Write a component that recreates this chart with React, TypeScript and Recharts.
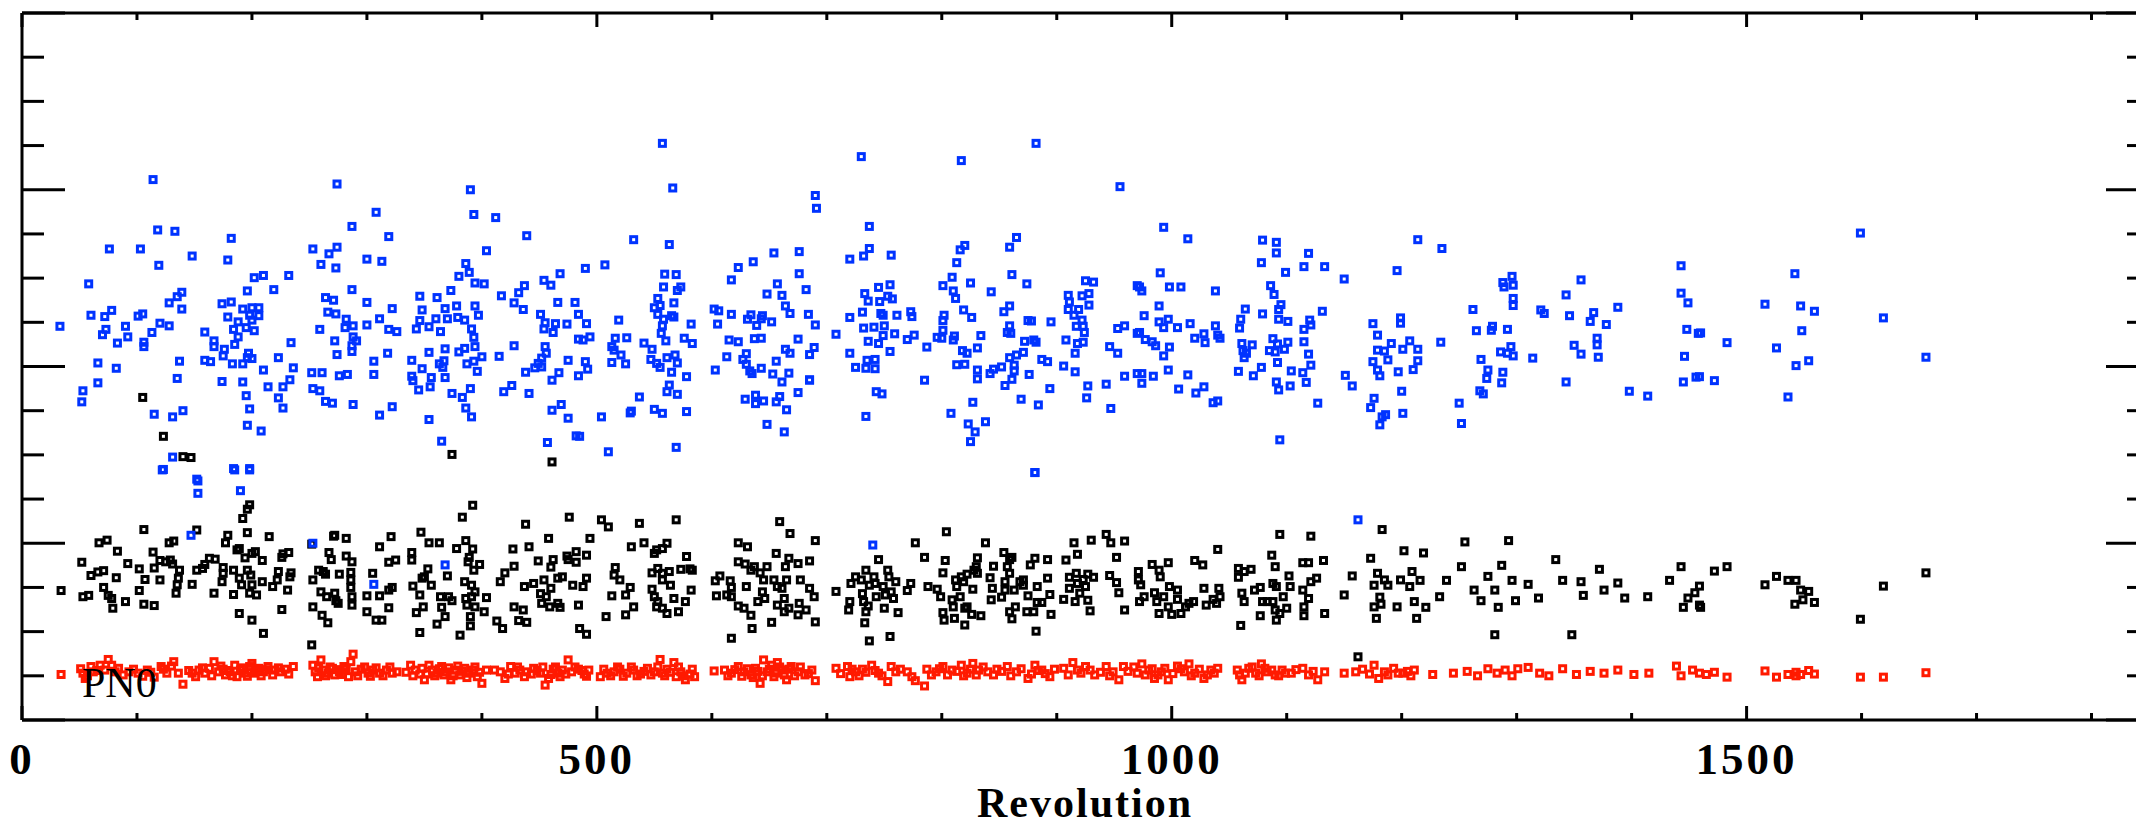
import React from 'react';
import { ScatterChart, Scatter, XAxis, YAxis, Label, LabelList } from 'recharts';

// axis ticks
const X_LABELS = [0, 500, 1000, 1500];
const X_TICKS = [0, 100, 200, 300, 400, 500, 600, 700, 800, 900, 1000, 1100, 1200, 1300, 1400, 1500, 1600, 1700, 1800];
const Y_TICKS = [0, 1, 2, 3, 4, 5, 6, 7, 8, 9, 10, 11, 12, 13, 14, 15, 16];
const Y_MAJOR = [0, 4, 8, 12, 16];

// [revolution, value]
const BLUE: [number, number][] = [
  [114,12.23],[274,12.13],[390,12.0],[308,11.49],[393,11.44],[412,11.37],[287,11.17],[118,11.09],[133,11.06],[182,10.9],[319,10.94],[439,10.96],[76,10.66],[103,10.66],[253,10.66],[267,10.55],[274,10.7],[404,10.62],[148,10.5],[179,10.41],[300,10.43],[313,10.38],[119,10.29],[260,10.31],[273,10.23],[386,10.33],[389,10.13],[380,10.04],[202,10.01],[210,10.06],[232,10.06],[394,9.89],[402,9.87],[454,9.95],[468,10.1],[460,9.84],[58,9.87],[219,9.74],[287,9.74],[373,9.72],[196,9.71],[437,9.83],[432,9.67],[139,9.68],[135,9.58],[346,9.59],[361,9.56],[264,9.56],[271,9.5],[174,9.42],[182,9.46],[128,9.44],[139,9.3],[300,9.45],[417,9.6],[428,9.44],[466,9.45],[481,9.45],[322,9.31],[348,9.28],[368,9.31],[378,9.37],[394,9.37],[436,9.29],[192,9.3],[200,9.33],[206,9.33],[78,9.27],[60,9.16],[72,9.13],[101,9.14],[105,9.19],[179,9.12],[206,9.15],[198,9.16],[266,9.23],[273,9.19],[451,9.18],[484,9.18],[397,9.16],[311,9.08],[360,9.08],[370,9.08],[379,9.11],[385,9.05],[282,9.07],[188,9.01],[200,9.05],[33,8.91],[73,8.84],[70,8.72],[90,8.91],[92,8.67],[120,8.98],[128,8.92],[113,8.77],[159,8.78],[184,8.84],[195,8.88],[202,8.81],[259,8.84],[281,8.88],[288,8.92],[300,8.94],[319,8.84],[326,8.79],[346,9.04],[343,8.85],[354,8.9],[364,8.79],[391,8.85],[393,8.66],[454,8.85],[455,8.99],[464,8.97],[474,8.96],[462,8.77],[106,8.55],[106,8.45],[83,8.53],[167,8.58],[167,8.45],[188,8.67],[185,8.5],[234,8.54],[272,8.58],[288,8.67],[291,8.58],[287,8.47],[176,8.39],[484,8.62],[428,8.47],[394,8.45],[368,8.4],[354,8.32],[385,8.41],[380,8.33],[455,8.45],[287,8.34],[274,8.27],[318,8.3],[175,8.24],[197,8.3],[196,8.2],[200,8.18],[223,8.2],[400,8.22],[415,8.23],[456,8.3],[452,8.19],[137,8.12],[159,8.14],[164,8.11],[183,8.06],[192,8.06],[66,8.08],[306,8.12],[339,8.14],[367,8.13],[363,8.06],[387,8.06],[393,8.12],[475,8.14],[449,8.07],[446,7.97],[452,7.99],[82,7.96],[210,7.92],[236,7.97],[252,7.86],[261,7.86],[276,7.79],[283,7.82],[306,7.82],[348,7.95],[366,7.98],[396,7.89],[438,7.87],[467,7.86],[484,7.79],[135,7.73],[66,7.63],[174,7.66],[192,7.65],[233,7.7],[339,7.78],[356,7.75],[368,7.75],[461,7.69],[214,7.54],[227,7.54],[340,7.68],[53,7.45],[253,7.5],[259,7.45],[345,7.47],[355,7.54],[390,7.5],[426,7.57],[419,7.43],[441,7.39],[374,7.39],[195,7.34],[223,7.29],[383,7.3],[52,7.2],[264,7.21],[270,7.17],[288,7.14],[227,7.06],[198,7.04],[322,7.09],[386,7.06],[469,7.14],[461,7.01],[115,6.92],[131,6.86],[140,7.0],[311,6.9],[354,6.8],[391,6.86],[475,6.83],[196,6.67],[208,6.54],[482,6.43],[365,6.31],[457,6.28],[131,5.95],[123,5.67],[184,5.69],[198,5.69],[152,5.45],
  [557,13.05],[730,12.75],[817,12.66],[882,13.05],[955,12.07],[566,12.04],[690,11.87],[691,11.58],[737,11.17],[865,10.92],[859,10.7],[532,10.87],[563,10.76],[737,10.67],[732,10.5],[720,10.43],[756,10.52],[816,10.64],[820,10.74],[813,10.35],[676,10.6],[654,10.57],[636,10.37],[623,10.24],[617,9.96],[490,10.22],[507,10.3],[559,10.09],[569,10.08],[676,10.1],[861,10.08],[809,10.02],[825,9.89],[874,9.87],[925,9.94],[932,9.91],[558,9.8],[573,9.8],[570,9.72],[657,9.87],[682,9.74],[648,9.64],[661,9.61],[801,9.83],[810,9.71],[812,9.54],[843,9.69],[755,9.85],[745,9.79],[733,9.65],[736,9.48],[753,9.59],[757,9.53],[746,9.47],[910,9.61],[922,9.6],[928,9.65],[911,9.46],[928,9.39],[970,9.83],[553,9.54],[567,9.44],[550,9.33],[555,9.38],[553,9.18],[664,9.37],[668,9.2],[859,9.37],[854,9.24],[910,9.29],[919,9.29],[915,9.16],[819,9.28],[826,9.11],[802,9.16],[801,9.04],[567,9.12],[565,9.15],[602,9.3],[606,9.26],[617,9.18],[684,9.18],[731,9.23],[720,9.11],[747,9.2],[749,9.16],[761,9.16],[773,9.24],[774,9.13],[875,9.04],[878,9.03],[895,9.01],[922,9.05],[917,8.91],[923,8.91],[924,8.77],[953,8.86],[959,8.92],[970,8.75],[519,9.05],[491,8.97],[558,9.07],[557,8.92],[556,8.75],[560,8.58],[582,8.96],[634,9.17],[631,9.07],[644,9.15],[643,9.08],[652,9.01],[639,8.93],[605,8.96],[690,8.94],[732,8.87],[741,8.89],[750,8.92],[801,8.82],[859,8.92],[857,8.77],[860,8.75],[708,8.73],[749,8.7],[759,8.74],[776,8.71],[770,8.61],[796,8.66],[800,8.64],[811,8.69],[810,8.6],[834,8.7],[872,8.57],[880,8.6],[882,8.55],[908,8.6],[918,8.52],[923,8.55],[494,8.67],[488,8.6],[516,8.64],[526,8.65],[541,8.53],[548,8.39],[576,8.64],[583,8.52],[615,8.6],[623,8.56],[637,8.63],[643,8.64],[675,8.62],[736,8.57],[745,8.52],[787,8.44],[831,8.42],[946,8.45],[953,8.3],[513,8.45],[515,8.37],[521,8.26],[664,8.39],[668,8.3],[689,8.43],[685,8.27],[720,8.3],[755,8.34],[818,8.36],[822,8.3],[916,8.3],[871,8.32],[865,8.26],[859,8.2],[490,8.11],[492,7.94],[513,8.09],[525,8.06],[547,8.16],[552,8.07],[561,8.2],[568,8.26],[570,8.08],[555,7.98],[565,7.87],[578,7.77],[613,8.22],[630,8.29],[627,8.16],[630,8.05],[633,7.9],[635,7.84],[643,7.96],[656,8.12],[653,7.83],[667,7.85],[685,7.69],[661,7.65],[603,7.92],[725,7.98],[735,8.14],[742,8.16],[734,7.96],[742,7.95],[813,8.04],[820,8.05],[831,7.92],[831,7.72],[842,7.84],[845,7.94],[852,7.99],[863,8.03],[863,7.9],[887,8.16],[892,8.11],[906,8.01],[916,7.88],[959,7.78],[970,7.84],[785,7.69],[861,7.71],[855,7.57],[876,7.82],[894,7.5],[927,7.56],[943,7.6],[530,6.99],[537,7.31],[529,6.95],[557,6.94],[561,7.43],[570,7.37],[550,7.03],[578,6.98],[563,7.58],[629,7.26],[638,7.35],[638,7.16],[645,7.22],[656,7.2],[659,7.32],[665,7.02],[675,7.41],[685,7.7],[743,7.43],[748,7.38],[827,7.19],[869,7.26],[884,7.13],[926,7.29],[947,7.05],[504,6.86],[734,6.87],[808,6.94],[823,6.7],[829,6.52],[838,6.75],[825,6.3],[648,6.69],[663,6.52],[510,6.07],[569,6.17],[881,5.6],[485,6.42],
  [993,11.15],[1014,10.89],[1079,10.86],[1091,10.81],[1091,10.57],[1119,10.56],[1078,10.35],[1115,10.26],[1133,10.26],[1099,10.13],[1150,9.98],[1214,10.87],[1235,10.67],[1196,10.17],[990,10.12],[972,9.8],[974,9.71],[998,9.8],[1008,9.8],[1038,9.71],[1086,9.83],[1089,9.63],[1095,9.4],[1093,9.29],[1093,9.07],[1101,9.02],[989,9.37],[976,9.15],[1064,9.3],[1060,9.07],[1079,9.19],[1131,9.25],[1120,9.05],[1121,8.94],[1115,8.84],[1059,8.87],[989,9.01],[997,9.07],[993,8.88],[1005,8.88],[1016,8.97],[1038,8.92],[972,8.77],[977,8.61],[983,8.56],[986,8.47],[998,8.44],[1020,8.64],[1028,8.74],[1029,8.54],[1040,8.71],[1042,8.64],[1061,8.52],[1070,8.49],[1088,8.63],[1092,8.51],[1101,8.55],[1115,8.56],[1085,8.36],[1090,8.33],[1098,8.39],[1062,8.36],[1065,8.3],[1063,8.2],[1092,8.09],[1119,8.28],[1121,8.03],[993,8.24],[974,7.84],[984,7.78],[997,7.92],[1014,7.81],[1058,7.89],[1071,7.79],[1078,7.98],[1104,7.9],[1114,7.86],[974,7.62],[1006,7.49],[1021,7.4],[1028,7.54],[1036,7.18],[1040,7.22],[1091,7.65],[1093,7.47],[1103,7.56],[1117,7.64],[1127,7.17],[1094,6.34],[1151,7.8],[1157,7.56],[1175,8.97],[1179,8.71],[1199,9.1],[1199,8.98],[1179,8.37],[1185,8.35],[1191,8.52],[1207,8.58],[1201,8.39],[1214,8.39],[1175,8.11],[1188,8.15],[1179,7.92],[1181,7.79],[1197,7.88],[1210,7.93],[1214,8.13],[1200,7.44],[1176,7.28],[1173,7.07],[1186,6.91],[1183,6.86],[1181,6.68],[1201,6.94],[1234,8.55],[1250,7.17],[1252,6.71],[1262,9.29],[1265,8.81],[1278,8.82],[1279,8.91],[1292,8.84],[1269,8.16],[1286,8.33],[1295,8.45],[1292,8.3],[1297,8.24],[1314,8.19],[1275,7.92],[1274,7.73],[1288,7.87],[1287,7.63],[1268,7.45],[1271,7.38],[1288,9.9],[1296,10.04],[1297,9.84],[1289,9.8],[1297,9.54],[1297,9.38],[1321,9.28],[1324,9.2],[1343,9.62],[1356,9.96],[1346,9.15],[1367,9.22],[1364,9.02],[1378,8.95],[1388,9.34],[1350,8.48],[1356,8.28],[1370,8.64],[1370,8.49],[1371,8.21],[1343,7.65],[1398,7.44],[1414,7.33],[1443,10.28],[1443,9.66],[1449,9.44],[1448,8.84],[1458,8.75],[1446,8.23],[1456,7.76],[1445,7.65],
  [1599,11.02],[1542,10.1],[1516,9.41],[1547,9.37],[1559,9.25],[1619,9.1],[1460,8.76],[1483,8.54],[1548,8.81],[1526,8.42],[1554,8.13],[1543,8.02],[1656,8.21],[1472,7.68],[1536,7.31],[1459,7.77],
  [122,5.66],[153,5.41],[153,5.13],[185,5.66],[198,5.66],[190,5.19],[147,4.18],[253,4.0],[368,3.51],[306,3.07],[881,5.6],[740,3.96],[1162,4.53],
];

const BLACK: [number, number][] = [
  [105,7.3],[123,6.42],[140,5.96],[147,5.94],[374,6.01],[461,5.84],
  [34,2.93],[52,3.57],[53,2.79],[58,2.82],[60,3.27],[66,3.35],[71,3.38],[67,4.01],[74,4.07],[83,3.82],[82,3.22],[71,3.0],[75,2.82],[78,2.75],[79,2.53],[90,2.68],[92,3.54],[102,3.42],[106,4.31],[107,3.18],[102,2.93],[106,2.62],[115,2.59],[114,3.8],[115,3.44],[120,3.61],[120,3.17],[125,3.58],[129,3.62],[128,4.01],[132,4.05],[131,3.53],[137,3.39],[136,3.21],[135,3.06],[134,2.87],[148,3.07],[152,4.3],[152,3.39],[157,3.43],[159,3.52],[163,3.66],[168,3.64],[167,2.87],[177,4.01],[179,4.18],[175,3.45],[175,3.32],[174,3.13],[184,3.39],[184,2.84],[187,3.85],[189,3.88],[189,3.21],[191,3.06],[189,2.41],[194,3.67],[196,4.24],[192,4.56],[196,4.77],[198,4.87],[200,3.77],[203,3.81],[196,3.39],[199,3.28],[200,3.06],[198,2.87],[204,2.83],[209,3.13],[209,3.61],[200,2.26],[210,1.96],[215,4.15],[218,3.02],[222,3.17],[223,3.36],[226,3.68],[227,3.76],[232,3.79],[234,3.33],[233,3.24],[231,2.94],[226,2.5],[252,3.98],[253,3.17],[253,2.56],[252,1.7],[258,3.39],[261,2.37],[266,2.2],[267,3.79],[269,3.63],[262,3.36],[264,3.3],[260,2.9],[265,2.79],[271,4.16],[272,4.18],[282,4.11],[282,3.71],[272,2.87],[273,2.7],[276,3.3],[275,2.64],[286,3.34],[287,3.58],[286,3.17],[286,3.0],[287,2.79],[287,2.6],[300,2.81],[300,2.45],[305,3.32],[308,2.26],[313,2.26],[311,3.92],[321,4.15],[311,2.81],[319,2.94],[322,3.0],[319,2.54],[319,3.57],[325,3.62],[339,3.79],[339,3.62],[347,4.25],[340,3.03],[346,2.83],[348,3.21],[350,3.24],[343,2.43],[349,2.56],[346,1.98],[354,4.01],[363,4.01],[353,3.42],[356,3.05],[361,2.17],[364,2.79],[365,2.55],[368,2.34],[370,3.26],[371,2.79],[374,2.7],[378,3.88],[383,4.59],[386,4.06],[392,4.86],[392,3.87],[389,3.68],[388,3.58],[398,3.52],[393,3.39],[385,3.13],[391,3.05],[394,2.9],[386,2.75],[391,2.79],[387,2.6],[394,2.56],[402,2.45],[404,2.77],[390,2.34],[390,2.13],[381,1.92],[413,2.24],[418,2.07],[416,3.13],[420,3.33],[427,3.87],[428,3.48],[438,4.43],[441,3.92],[437,3.02],[428,2.56],[436,2.49],[432,2.25],[439,2.21],[445,3.09],[449,3.6],[451,2.86],[452,2.64],[456,2.79],[454,3.17],[458,4.11],[460,3.46],[462,3.63],[460,2.98],[459,2.56],[466,2.64],[468,2.55],[466,3.21],[470,3.24],[474,3.71],[475,3.63],[482,3.81],[482,3.57],[476,4.59],[479,3.05],[488,3.02],[491,3.21],[484,2.6],[485,2.07],[491,1.94],[491,3.73],[494,4.11],[504,4.53],[510,4.37],[508,2.34],[513,2.81],[515,3.28],[516,3.45],[520,3.17],[525,2.83],[529,3.0],[532,2.56],[525,2.38],[530,3.92],[537,4.45],[541,4.01],[548,3.33],[548,2.96],[550,3.77],[552,3.85],[557,3.88],[561,4.0],[553,3.43],[557,3.32],[563,3.36],[557,3.17],[564,3.05],[569,4.53],[573,3.41],[578,3.7],[581,3.42],[583,3.39],[550,2.79],[553,2.68],[557,2.53],[552,2.56],[561,2.41],[567,2.75],[571,2.45],[577,2.68],[582,2.94],[603,3.15],[604,2.81],
  [607,3.26],[616,3.15],[617,3.0],[613,2.83],[617,2.79],[617,1.85],[623,4.01],[631,3.92],[623,3.58],[629,3.53],[634,3.39],[637,3.47],[630,3.02],[623,2.58],[628,2.53],[634,2.37],[635,2.07],[642,3.33],[645,3.17],[644,2.9],[640,2.68],[646,2.75],[648,3.47],[652,2.21],[654,3.17],[656,3.77],[659,4.49],[657,3.02],[657,2.6],[661,2.98],[663,2.75],[664,3.47],[667,3.66],[668,4.22],[665,3.17],[663,2.45],[667,2.53],[675,2.38],[675,3.54],[676,2.64],[677,3.17],[682,2.49],[685,3.6],[685,2.98],[689,2.79],[690,2.22],[690,4.06],[708,2.91],[720,2.68],[719,2.49],[721,3.09],[725,3.24],[730,3.17],[734,3.39],[737,3.05],[733,2.2],[737,1.79],[734,2.45],[731,2.86],[732,2.68],[736,2.58],[741,3.24],[745,3.63],[742,3.09],[743,2.79],[749,3.02],[753,3.39],[754,3.24],[751,2.83],[756,2.9],[758,2.75],[760,3.13],[750,2.53],[762,2.43],[755,1.89],[770,2.93],[773,3.09],[777,4.01],[785,3.68],[788,3.02],[796,2.96],[799,2.79],[801,3.33],[803,3.61],[804,4.26],[801,2.43],[802,2.26],[809,2.72],[810,2.56],[812,3.17],[813,3.02],[811,2.3],[817,3.24],[816,2.79],[819,3.13],[820,2.53],[820,2.15],[822,2.56],[822,3.3],[826,2.39],[827,2.96],[828,3.39],[830,3.47],[831,3.67],[831,3.32],[834,2.36],[838,4.01],[842,3.22],[843,2.72],[844,2.98],[845,3.48],[852,2.78],[854,3.79],[855,3.13],[855,2.94],[859,3.32],[857,3.47],[859,3.63],[861,3.68],[859,2.45],[861,2.29],[864,2.56],[863,2.94],[868,3.13],[871,3.17],[871,3.05],[875,2.81],[874,2.45],[877,3.51],[880,2.45],[881,3.66],[883,3.02],[883,2.66],[887,2.66],[882,2.01],[892,3.63],[892,3.21],[894,2.84],[895,2.39],[908,3.62],[906,2.73],[911,3.23],[911,2.98],[916,2.68],[915,4.01],[918,3.75],[917,3.32],[918,3.09],[920,2.87],[923,3.18],[925,3.02],[927,3.3],[927,2.71],[929,2.47],[932,3.23],[930,4.07],[943,4.2],[947,4.01],[946,3.27],[952,3.11],[952,3.68],[954,2.88],[959,4.05],[959,2.49],[971,3.36],[971,3.17],[973,3.06],[972,2.68],[976,2.79],[983,3.52],[985,2.88],[989,3.39],[990,3.24],[987,2.68],[989,2.41],[993,2.79],[997,3.56],[998,3.02],[997,2.56],[1000,2.39],[1005,2.94],[1005,2.73],[1008,2.41],[1012,2.56],[1015,2.64],[1019,2.68],[1020,3.61],[1027,3.51],[1028,2.98],[1030,2.6],[1036,2.73],[1040,3.86],[1039,2.64],[1041,2.98],[1042,2.79],[1058,3.43],[1058,3.23],[1063,3.36],[1069,3.41],[1061,2.87],[1063,2.68],[1060,2.14],[1072,2.94],[1077,3.0],[1077,2.36],[1079,2.68],[1083,2.68],[1087,3.73],[1090,3.47],[1094,4.2],[1088,3.09],[1091,3.02],[1088,2.68],[1090,2.49],[1094,2.41],[1091,2.26],[1097,2.79],[1100,2.53],[1102,3.26],[1103,3.02],[1114,3.56],[1119,3.56],[1121,4.16],[1114,2.94],[1119,2.75],[1115,2.56],[1115,2.36],[1121,3.13],[1126,3.21],[1132,3.61],[1133,2.41],[1157,3.26],[1150,2.83],[1162,1.43],[1173,3.66],[1179,3.32],[1176,3.05],[1183,4.31],[1185,3.17],[1188,3.05],[1181,2.78],[1176,2.56],[1182,2.62],[1178,2.3],[1199,3.17],[1196,2.56],[1202,3.83],[1209,3.36],[1207,3.02],[1211,2.68],[1213,2.3],
  [1219,3.78],[1216,3.16],[1221,2.55],[1233,2.79],[1239,3.16],[1255,4.03],[1252,3.47],[1263,2.94],[1269,2.7],[1275,3.25],[1281,2.94],[1284,2.55],[1287,3.5],[1293,4.06],[1296,3.16],[1299,2.7],[1281,1.93],[1310,3.07],[1319,2.76],[1334,3.63],[1340,3.16],[1348,1.93],[1356,3.13],[1358,2.82],[1372,3.41],[1376,2.94],[1388,3.1],[1394,2.76],[1414,2.79],[1433,3.16],[1443,3.47],[1449,2.76],[1455,2.88],[1445,2.55],[1459,2.6],
  [1459,3.03],[1460,2.55],[1472,3.37],[1483,3.47],[1516,3.06],[1526,3.25],[1536,3.16],[1543,3.16],[1547,2.94],[1554,2.91],[1549,2.72],[1542,2.62],[1559,2.66],[1599,2.28],[1619,3.03],[1656,3.33],
];

const RED: [number, number][] = [
  [34,1.03],[51,1.16],[53,1.06],[55,0.94],[60,1.21],[62,1.09],[68,1.24],[72,1.13],[75,1.37],[78,1.24],[81,1.09],[84,1.17],[93,1.09],[101,1.06],[109,1.13],[115,0.97],[121,1.21],[123,1.15],[126,1.06],[132,1.32],[130,1.22],[136,1.06],[140,0.81],[148,1.06],[154,1.13],[159,1.06],[163,1.17],[167,1.32],[171,1.09],[175,1.15],[177,1.02],[181,1.09],[185,1.24],[187,0.98],[190,1.13],[194,1.06],[198,1.21],[200,1.28],[202,1.06],[206,1.17],[210,1.09],[214,1.21],[220,1.13],[225,1.09],[229,1.15],[236,1.21],[253,1.24],[255,1.09],[257,0.98],[260,1.36],[262,1.13],[266,1.06],[270,1.17],[272,1.02],[276,1.09],[280,1.21],[284,0.98],[286,1.32],[288,1.49],[290,1.09],[295,1.15],[301,1.06],[305,1.13],[311,1.06],[317,1.13],[322,1.06],[326,1.09],[338,1.24],[342,1.13],[346,1.04],[350,0.91],[354,1.24],[357,1.13],[361,1.06],[365,1.21],[369,1.09],[373,0.91],[377,1.13],[381,1.02],[385,1.17],[389,1.06],[392,1.13],[396,0.98],[400,0.83],[404,1.13],[416,1.09],[420,0.94],[425,1.21],[429,1.06],[433,1.13],[439,1.09],[445,1.17],[451,1.06],[455,0.79],[458,0.94],[462,1.15],[466,1.06],[470,1.13],[475,1.36],[478,1.09],[484,1.15],[489,1.04],[493,1.13],[503,0.98],[509,1.06],[515,1.09],[520,1.15],[526,1.06],[532,1.13],[538,1.04],[544,1.17],[550,1.09],[555,1.37],[557,1.06],[561,1.15],[567,1.3],[569,0.98],[573,1.09],[577,0.91],[581,1.04],[585,0.98],[602,1.11],
  [611,1.13],[617,1.06],[623,1.21],[628,1.09],[634,1.02],[638,1.17],[642,0.83],[645,1.36],[648,1.09],[652,1.24],[656,1.06],[657,1.3],[661,1.13],[665,0.91],[669,1.21],[675,1.09],[681,1.02],[687,1.13],[690,0.89],[708,1.17],[718,1.21],[720,0.98],[725,1.09],[731,1.15],[739,1.24],[745,1.06],[753,0.87],[756,1.21],[760,1.09],[770,1.09],[774,0.98],[777,0.89],[785,0.77],[787,1.15],[795,1.09],[801,1.21],[809,1.13],[817,1.24],[822,1.06],[827,1.28],[832,1.13],[840,1.09],[848,1.15],[857,1.21],[865,1.09],[875,0.94],[881,1.24],[887,1.13],[894,0.98],[906,1.17],[914,1.3],[918,1.13],[925,1.21],[933,1.02],[943,1.21],[949,1.09],[954,0.91],[958,1.21],[970,1.06],[974,1.27],[980,1.13],[985,0.94],[991,1.09],[997,0.91],[1005,1.22],[1011,1.09],[1015,1.27],[1020,1.06],[1028,0.94],[1034,1.13],[1040,1.17],[1057,1.13],[1061,0.91],[1067,1.17],[1073,1.06],[1078,1.27],[1083,1.09],[1090,1.02],[1096,1.13],[1104,1.06],[1114,1.17],[1119,1.02],[1127,0.91],[1133,1.09],[1150,1.06],[1160,1.09],[1176,1.24],[1180,0.94],[1185,1.09],[1193,1.17],[1201,1.06],[1211,1.13],
  [1227,1.03],[1245,1.06],[1257,1.1],[1266,1.0],[1275,1.16],[1283,1.06],[1290,1.13],[1296,1.0],[1301,1.16],[1310,1.19],[1320,1.06],[1328,1.0],[1340,1.16],[1352,1.03],[1364,1.1],[1376,1.06],[1388,1.13],[1402,1.03],[1415,1.06],[1439,1.22],[1443,1.0],[1453,1.13],[1465,1.03],
  [1459,1.06],[1472,1.08],[1483,0.97],[1516,1.11],[1526,0.97],[1536,1.03],[1543,1.08],[1543,1.0],[1547,1.03],[1554,1.12],[1559,1.04],[1599,0.97],[1619,0.97],[1656,1.07],
  // denser parts of the band
  [57,1.0],[65,1.12],[88,1.02],[97,1.15],[105,0.99],[112,1.08],[145,1.12],[151,0.98],[157,1.18],[165,1.0],[173,1.22],[179,1.12],[183,1.0],[192,1.18],[196,0.99],[204,1.12],[208,1.0],[212,1.14],[218,1.02],[223,1.18],[232,1.04],[258,1.18],[264,1.0],[268,1.2],[274,1.14],[278,1.03],[282,1.15],[292,1.0],[298,1.2],[303,0.99],[308,1.18],[314,1.0],[320,1.2],[334,1.08],[340,1.0],[348,1.17],[352,1.04],[359,1.0],[363,1.16],[367,1.02],[371,1.18],[375,1.0],[379,1.22],[383,1.1],[387,0.96],[394,1.2],[398,1.08],[411,1.13],[423,1.04],[431,1.2],[437,0.98],[443,1.04],[448,1.12],[453,1.2],[460,1.03],[464,1.2],[468,0.98],[473,1.04],[481,1.2],[487,1.12],[491,0.99],
  [506,1.15],[512,1.0],[518,1.2],[523,0.99],[530,1.2],[535,1.0],[541,1.1],[547,1.02],[553,1.2],[559,1.0],[564,1.08],[571,1.2],[575,1.0],[583,1.15],[614,1.0],[620,1.14],[626,0.99],[631,1.16],[636,0.96],[640,1.1],[644,1.0],[650,1.15],[654,0.98],[659,1.2],[663,1.02],[667,1.15],[672,1.0],[677,1.2],[684,1.05],[712,1.05],[722,1.15],[728,1.0],[734,1.08],[742,1.12],[748,1.0],[764,1.15],[791,1.02],[798,1.16],[805,1.02],[813,1.1],[819,1.0],[825,1.15],[830,1.02],[836,1.2],[845,1.02],[852,1.1],[860,1.0],[869,1.16],[878,1.04],[884,1.12],[890,1.05],[898,1.15],[910,1.02],[921,1.06],[929,1.13],[938,1.08],[946,1.0],[962,1.1],[967,1.2],[977,1.02],[983,1.16],[988,1.02],[994,1.17],[1001,1.05],[1008,1.16],[1017,1.0],[1024,1.15],[1031,1.02],[1037,1.06],[1059,1.02],[1064,1.06],[1070,1.2],[1076,1.0],[1081,1.17],[1087,1.13],[1093,1.0],[1099,1.06],[1108,1.14],[1123,1.1],[1166,1.15],[1172,1.04],[1188,1.02],[1197,1.06],[1205,1.1],[1208,1.0],
];

const BLUE_C = '#0033ff';
const BLACK_C = '#000000';
const RED_C = '#ff1a00';
const FONT = '"Liberation Serif", "DejaVu Serif", serif';

const toPoints = (rows: [number, number][]) => rows.map(([x, y]) => ({ x, y }));

const square = (color: string) => (props: any) => {
  const { cx, cy } = props;
  if (cx == null || cy == null) return <g />;
  return <rect x={cx - 3} y={cy - 3} width={6} height={6} fill="none" stroke={color} strokeWidth={3} />;
};

const isMajorX = (v: number) => X_LABELS.includes(v);
const isMajorY = (v: number) => Y_MAJOR.includes(v);

// tick marks point into the plot; x ticks 7 / 14 px, y ticks 22 / 43 px
const BottomTick = (props: any) => {
  const { x, y, payload } = props;
  const major = isMajorX(payload.value);
  return (
    <g>
      <line x1={x} x2={x} y1={y} y2={y - (major ? 14 : 7)} stroke="#000" strokeWidth={3} />
      {major && (
        <text x={x} y={y + 54} textAnchor="middle" fontFamily={FONT} fontWeight="bold" fontSize={45} letterSpacing={3} fill="#000">
          {payload.value}
        </text>
      )}
    </g>
  );
};

const TopTick = (props: any) => {
  const { x, y, payload } = props;
  const major = isMajorX(payload.value);
  return <line x1={x} x2={x} y1={y} y2={y + (major ? 14 : 7)} stroke="#000" strokeWidth={3} />;
};

const LeftTick = (props: any) => {
  const { x, y, payload } = props;
  return <line x1={x} x2={x + (isMajorY(payload.value) ? 43 : 22)} y1={y} y2={y} stroke="#000" strokeWidth={3} />;
};

const RightTick = (props: any) => {
  const { x, y, payload } = props;
  return <line x1={x} x2={x - (isMajorY(payload.value) ? 43 : 22)} y1={y} y2={y} stroke="#000" strokeWidth={3} />;
};

// the panel name sits on top of the red points
const PanelName = (props: any) =>
  props.index === 0 ? (
    <text x={82} y={697} fontFamily={FONT} fontSize={42} fill="#000">
      PN0
    </text>
  ) : null;

const line = { stroke: '#000', strokeWidth: 3 };

export default function App() {
  return (
    <div style={{ position: 'absolute', left: 0, top: 0, width: 2140, height: 825, background: '#fff' }}>
      <div style={{ width: 2136, height: 825, overflow: 'hidden' }}>
        <ScatterChart width={2160} height={825} margin={{ top: 13, right: 11, bottom: 45, left: 22 }}>
          <XAxis
            xAxisId="b"
            dataKey="x"
            type="number"
            domain={[0, 1850]}
            ticks={X_TICKS}
            interval={0}
            height={60}
            tickSize={0}
            tickMargin={0}
            axisLine={line}
            tickLine={false}
            tick={<BottomTick />}
          >
            <Label
              content={() => (
                <text x={1085} y={817} textAnchor="middle" fontFamily={FONT} fontWeight="bold" fontSize={42} letterSpacing={2} fill="#000">
                  Revolution
                </text>
              )}
            />
          </XAxis>
          <XAxis xAxisId="t" dataKey="x" orientation="top" type="number" domain={[0, 1850]} ticks={X_TICKS} interval={0} mirror height={1} tickSize={0} tickMargin={0} tick={<TopTick />} axisLine={line} tickLine={false} />
          <YAxis yAxisId="l" dataKey="y" type="number" domain={[0, 16]} ticks={Y_TICKS} interval={0} mirror width={1} tickSize={0} tickMargin={0} tick={<LeftTick />} axisLine={line} tickLine={false} />
          <YAxis yAxisId="r" dataKey="y" orientation="right" type="number" domain={[0, 16]} ticks={Y_TICKS} interval={0} mirror width={1} tickSize={0} tickMargin={0} tick={<RightTick />} axisLine={false} tickLine={false} />

          <Scatter xAxisId="b" yAxisId="l" data={toPoints(BLACK)} shape={square(BLACK_C)} isAnimationActive={false} />
          <Scatter xAxisId="t" yAxisId="r" data={toPoints(BLUE)} shape={square(BLUE_C)} isAnimationActive={false} />
          <Scatter xAxisId="b" yAxisId="l" data={toPoints(RED)} shape={square(RED_C)} isAnimationActive={false}>
            <LabelList dataKey="x" content={<PanelName />} />
          </Scatter>
        </ScatterChart>
      </div>
    </div>
  );
}
